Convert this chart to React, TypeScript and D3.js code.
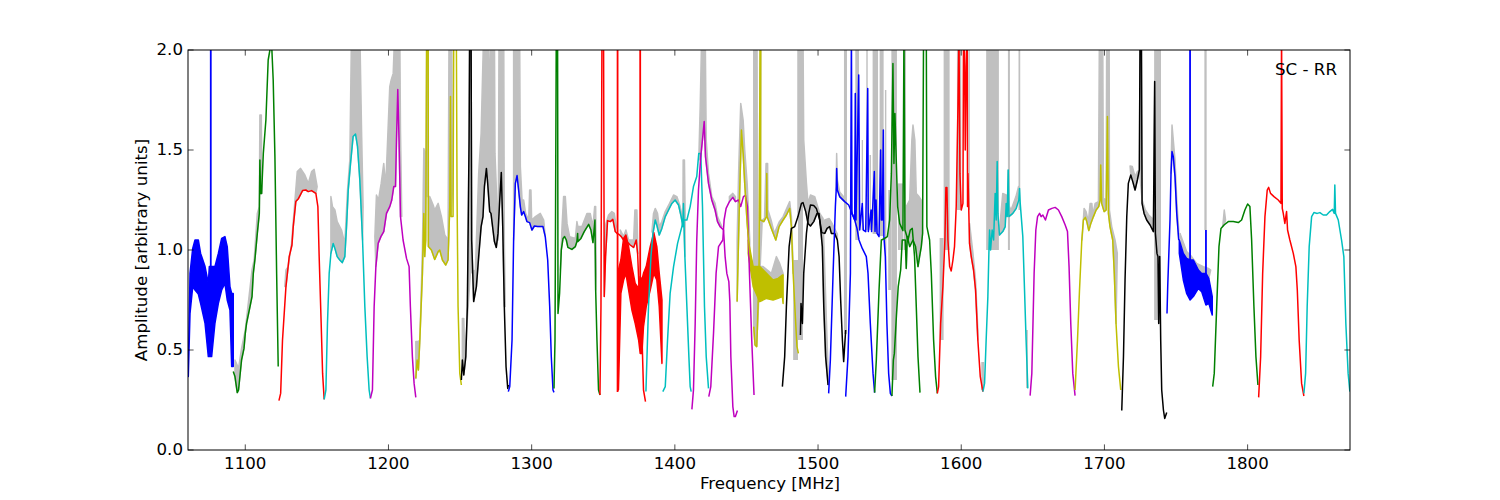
import React from "react";
import * as d3 from "d3";

const TOP = 2.1;
const xTicks = [1100, 1200, 1300, 1400, 1500, 1600, 1700, 1800];
const yTicks = [0, 0.5, 1, 1.5, 2];
const C = { b: "#0000ff", g: "#008000", r: "#ff0000", c: "#00bfbf", m: "#bf00bf", y: "#bfbf00", k: "#000000" };

// Sub-band traces: frequency [MHz] and amplitude
const green1F = [1091.6,1092.8,1094.4,1095.3,1097.4,1099.1,1100,1100.9,1102.8,1104.7,1105.6,1106.7,1108.4,1109.8,1110.2,1110.7,1111.4,1112.6,1114.4,1116,1117.2,1118.4,1119.5,1120.7,1121.9,1123];
const green1A = [.392,.367,.287,.30,.45,.508,.583,.633,.70,.767,.883,.95,1.083,1.183,1.45,1.283,1.283,1.483,1.65,1.95,2.0,2.03,1.85,1.467,.883,.417];
const green1GF = [1092.8,1095.3,1097.4,1100,1104.7,1106.2,1108.4,1109.8,1110.2,1111.2,1111.6];
const green1GA = [.45,.408,.508,.6,.9,.95,1.183,1.217,1.675,1.675,1.283];

const red1F = [1123.5,1124.7,1126,1128.4,1130.7,1132.6,1133.5,1135.3,1137.2,1140,1142.3,1144,1146.3,1149.3,1150.7,1151.6,1153,1154,1155.1];
const red1A = [.247,.283,.55,.817,.967,1.025,1.117,1.242,1.258,1.297,1.30,1.292,1.297,1.283,1.217,.967,.633,.383,.253];
const red1GF = [1127.6,1128.4,1130,1132.3,1134.7,1136.3,1138.6,1141.6,1144,1146.3,1148.1,1150.2];
const red1GA = [.817,.90,.917,1.033,1.25,1.392,1.408,1.375,1.333,1.392,1.403,1.317];

const cyan1F = [1155.1,1156.3,1157.4,1158.6,1159.8,1161.4,1162.6,1164.2,1166,1167.7,1169.5,1170.7,1171.9,1173.5,1175.3,1177,1178.4,1180,1181.9,1183.5,1185.1,1186.5,1187.4];
const cyan1A = [.253,.30,.633,.883,.983,1.033,1.008,.967,.95,.937,.967,1.117,1.30,1.433,1.567,1.58,1.517,1.35,1.05,.717,.467,.30,.258];
const cyan1GF = [1159.8,1160.9,1162.6,1164.2,1167.2,1169.5,1171.4,1173,1174.2,1180,1181.2,1182.3];
const cyan1GA = [1.267,1.217,1.2,1.142,1.10,1.033,1.30,1.45,TOP,TOP,1.6,1.217];

const magenta1F = [1187.4,1188.8,1190,1191.2,1192.8,1194.7,1196.7,1198.6,1200.9,1202.3,1203.7,1204.9,1205.6,1206.5,1207.4,1208.4,1210.2,1212.6,1214.4,1215.3,1216.7,1217.9,1219.1];
const magenta1A = [.258,.30,.717,.917,1.033,1.067,1.092,1.183,1.217,1.25,1.317,1.317,1.55,1.803,1.55,1.167,1.05,.958,.917,.717,.467,.333,.263];
const magenta1GF = [1190.5,1191.6,1193,1194.9,1196.7,1198.1,1200.9,1201.9,1203.3,1204.4,1207.9,1208.4,1209.3];
const magenta1GA = [1.067,1.275,1.25,1.333,1.433,1.317,1.817,1.85,1.883,TOP,TOP,1.6,1.167];

const yellow1F = [1219.1,1220,1220.9,1221.9,1223.7,1224.7,1225.3,1226,1226.7,1227.7,1227.9,1230,1232.3,1234.7,1235.8,1237.7,1240,1241.6,1242.8,1243.3,1243.7,1245.1,1245.6,1247.4,1247.9,1248.6,1249.8,1250.9];
const yellow1A = [.358,.45,.40,.55,.883,1.183,.967,1.05,TOP,TOP,1.017,1.0,.953,.992,1.0,.95,.925,.95,1.217,1.767,1.167,1.167,TOP,TOP,1.267,.717,.383,.325];
const yellow1GF = [1219.1,1220.9,1221.9,1223.7,1224.7,1225.6,1226.5,1228.8,1231.2,1232.3,1234.7,1237,1239.3,1241.6,1242.3,1244.2,1244.7];
const yellow1GA = [.542,.542,.55,1.0,1.508,1.483,1.267,1.267,1.225,1.2,1.233,1.167,1.075,1.05,TOP,TOP,1.3];

const black1F = [1250.9,1251.6,1252.6,1254,1255.1,1256.3,1256.7,1257.7,1258.1,1259.5,1261.4,1263,1264.7,1266,1267,1268.4,1269.3,1270.7,1271.6,1273,1274,1275.3,1276.5,1277.7,1278.8,1279.8,1280.9,1282.1,1283.3,1283.7];
const black1A = [.35,.45,.375,.467,.717,1.55,TOP,TOP,1.05,.742,.817,.967,1.117,1.167,1.317,1.408,1.333,1.192,1.183,1.10,1.042,1.013,1.083,1.25,1.388,1.117,.717,.417,.308,.325];
const black1GF = [1251.6,1252.6,1253.3,1257.2,1260.7,1263,1264.7,1266.5,1270,1270.5,1271.2,1271.6,1274,1274.4,1276.7,1277.2,1280.5,1280.9,1281.6];
const black1GA = [.658,.658,.467,.883,.90,1.383,1.583,TOP,TOP,1.858,1.858,TOP,TOP,1.483,1.05,TOP,TOP,1.05,.717];

const blue2F = [1283.7,1284.7,1286.3,1287.4,1288.6,1289.8,1290.9,1292.1,1293,1294.4,1295.6,1296.7,1298.6,1300.2,1301.9,1304.2,1307.9,1309.5,1311.2,1312.6,1313.7,1314.9,1315.6];
const blue2A = [.292,.317,.55,1.05,1.333,1.372,1.30,1.217,1.175,1.192,1.167,1.142,1.137,1.10,1.12,1.117,1.117,1.067,.95,.717,.467,.30,.288];
const blue2GF = [1287.4,1291.6,1292.1,1293.3,1294.4,1295.8,1297.9,1298.6,1299.5,1300,1302.6,1306,1308.4,1309.5];
const blue2GA = [TOP,TOP,1.417,1.25,1.25,1.183,1.15,1.30,1.30,1.15,1.167,1.183,1.15,1.067];

const green2F = [1315.6,1316.3,1316.7,1317.2,1318.1,1318.4,1319.5,1320.7,1321.9,1323,1324.2,1325.3,1328.1,1330.5,1331.6,1332.1,1332.3,1334.4,1336.7,1339.8,1341.4,1342.8,1344.2,1344.7,1345.6,1346.7,1347.7];
const green2A = [.308,.55,1.217,TOP,TOP,.683,.783,1,1.058,1.067,1.05,1.013,1.003,1.017,1.042,1.083,1.042,1.058,1.092,1.128,1.10,1.037,1.15,.80,.55,.30,.275];
const green2GF = [1320,1321.2,1322.3,1323.5,1324.7,1326.5,1330.5,1331.6,1332.3,1335.1,1338.6,1340.9,1342.8,1344,1344.7,1345.1];
const green2GA = [.90,1.117,1.267,1.267,1.133,1.067,1.058,1.142,1.117,1.117,1.183,1.183,1.117,1.217,1.217,.883];

const red2F = [1347.7,1348.4,1349.1,1350.2,1350.7,1351.6,1353,1354.9,1356.7,1358.4,1360];
const red2A = [.275,.717,TOP,TOP,.767,.967,1.147,1.142,1.153,1.092,1.08];
const red2GF = [1350.7,1351.9,1353.7,1356,1357.7,1359.1];
const red2GA = [1.05,1.133,1.175,1.192,1.183,1.117];

const red3F = [1360,1360.7,1362.6,1364.2,1366.5,1368.8,1371.2,1373,1374,1375.3,1377,1378.1,1379.5];
const red3A = [1.08,1.08,1.067,1.05,1.042,1.025,1.013,1.05,.983,.75,.583,.30,.242];
const red3GF = [1361.9,1364.2,1365.8,1367.7,1371.2,1372.1,1373.5,1374.2];
const red3GA = [1.10,1.067,1.10,1.05,1.05,1.2,1.2,.983];

const cyan2F = [1379.8,1381.6,1383.3,1384.7,1386.3,1387.4,1389.1,1390.9,1393.3,1395.6,1397.9,1400.2,1402.6,1404.4,1405.6,1406,1407,1408.4,1409.8,1410.7,1411.4];
const cyan2A = [.292,.717,.967,1.083,1.15,1.125,1.075,1.108,1.167,1.2,1.233,1.25,1.225,1.167,1.117,1.233,.967,.717,.467,.317,.292];
const cyan2GF = [1384,1385.1,1386.3,1387.9,1389.1,1390.9,1393.3,1396.3,1399.1,1401.4,1403.7,1405.6,1405.8,1406.7,1407.2];
const cyan2GA = [1.092,1.183,1.208,1.183,1.117,1.142,1.192,1.233,1.275,1.267,1.217,1.15,1.45,1.45,1.183];

const cyan3F = [1391.6,1393.3,1394.9,1396.7,1399.1,1401.9,1404.9,1406,1408.4,1410.7,1413,1415.3,1416.7,1418.1,1419.3,1420.7,1421.9,1423.5];
const cyan3A = [.292,.317,.55,.783,.917,1.033,1.117,1.15,1.15,1.217,1.317,1.367,1.483,1.483,1.217,.717,.467,.308];

const magenta2F = [1411.9,1413,1414.2,1415.3,1416.5,1418.1,1419.5,1420.5,1421.4,1423.5,1425.8,1428.1,1429.8,1431.6,1434,1435.1,1436.3,1437.7,1438.4,1439.1,1440.5,1441.4,1442.3,1443.7];
const magenta2A = [.203,.30,.633,1.05,1.30,1.467,1.567,1.642,1.467,1.333,1.25,1.2,1.142,1.117,1.10,.967,.883,.842,.742,.467,.217,.167,.167,.197];
const magenta2GF = [1416.7,1417.7,1418.8,1421.2,1421.9,1423.5,1425.8,1428.1,1429.8,1432.8];
const magenta2GA = [1.45,1.717,TOP,TOP,1.55,1.383,1.267,1.233,1.167,1.117];

const magenta3F = [1423.7,1425.1,1427,1428.8,1430.5,1433.5,1434.4,1435.8,1438.1,1440.5,1442.3,1444.4,1446,1447.9,1449.3,1450.7,1452.1,1453.7,1455.3];
const magenta3A = [.267,.317,.583,.883,1.017,1.05,1.15,1.208,1.242,1.263,1.242,1.25,1.217,1.267,1.273,1.217,.883,.55,.275];
const magenta3GF = [1438.1,1440.5,1442.3];
const magenta3GA = [1.267,1.283,1.267];

const yellow2F = [1443.5,1444.2,1445.3,1446.5,1447.7,1448.8,1450.5,1452.3,1454.2];
const yellow2A = [.742,.967,1.30,1.60,1.483,1.333,1.133,.983,.917];
const yellow2GF = [1443.5,1444.5,1446,1447.7,1448.8,1450.5,1452.3];
const yellow2GA = [1.05,1.383,1.733,1.65,1.5,1.333,1.05];

const yellow3F = [1455.1,1456,1457.2,1458.1,1458.8,1459.3,1459.6,1460,1459.8,1462.1,1464,1464.2,1464.4,1467.4,1470.5,1472.8,1475.6,1477.9,1480.2,1481.4,1482.6,1484.4,1485.3,1486.3];
const yellow3A = [.617,.525,.517,.717,.917,1.717,TOP,TOP,1.15,1.142,1.167,1.383,1.167,1.108,1.05,1.117,1.15,1.175,1.208,1.117,.883,.633,.517,.483];
const yellow3GF = [1455.1,1457.4,1457.7,1461,1462.6,1463.7,1464.8,1465,1467.2,1469.5,1473,1475.6,1480.2,1481.4,1482.6];
const yellow3GA = [TOP,TOP,.6,1.15,1.158,1.433,1.433,1.2,1.15,1.083,1.142,1.167,1.242,1.167,.917];

const black2F = [1475.1,1476.7,1477.9,1479.8,1481.4,1483.7,1486,1488.4,1489.5,1491.4,1493,1494.7,1497,1499.3,1500.7,1501.9,1503,1504,1505.3,1507];
const black2A = [.317,.467,.717,1.017,1.108,1.117,1.167,1.233,1.237,1.192,1.133,1.12,1.142,1.183,1.183,1.10,1.017,.717,.467,.325];
const black2GF = [1486,1489.5,1490,1491.9,1493,1494.7,1497.7,1501.2,1503.5,1507];
const black2GA = [TOP,TOP,1.55,1.333,1.233,1.275,1.267,1.183,1.158,.4];

const black3F = [1487.7,1488.1,1489.1,1490,1491.9,1493.5,1494.7,1497,1498.8,1501.2,1502.6,1504.7,1506.3,1508.1,1509.3,1511.6,1513.5,1514.7,1515.8,1517,1517.9,1519.3];
const black3A = [.575,.733,.633,.883,1.083,1.183,1.225,1.222,1.208,1.15,1.087,1.083,1.108,1.117,1.083,1.083,1.05,.967,.75,.55,.442,.60];
const black3GF = [1504.7,1507.7,1510,1513.5];
const black3GA = [1.15,1.158,1.13,1.08];

const blue3F = [1507.4,1508.6,1510.5,1512.1,1512.8,1513,1513.5,1515.1,1518.6,1521.4,1523.3,1525.6,1527.2,1528.6,1530.9,1533.7,1534.9,1536.5,1538.4,1539.5];
const blue3A = [.283,.45,.883,1.217,1.317,1.408,1.30,1.267,1.242,1.225,1.192,1.15,1.108,1.05,1.008,.967,.883,.633,.383,.287];
const blue3GF = [1512.6,1513,1513.5,1515.1,1518.6];
const blue3GA = [1.3,1.483,1.35,1.29,1.26];

const blue4F = [1519.3,1520.9,1522.6,1523.3,1523.7,1525.6,1526,1526.5,1528.4,1529.1,1530.9,1531.6,1533.3,1534.7,1535.1,1537,1537.4,1539.3,1539.8,1540.5,1541.2,1542.6,1543.7,1544.2,1544.9,1545.6,1546,1547,1548.1,1549.3,1550.5,1551.6];
const blue4A = [.267,.467,.883,TOP,1.183,1.15,1.783,1.15,1.875,1.10,1.233,1.10,1.092,1.808,1.092,1.2,1.092,1.392,1.092,1.25,1.083,1.067,1.5,1.15,1.15,1.6,1.067,.967,.633,.383,.283,.27];

const green3F = [1539.5,1540.7,1542.6,1544.2,1545.8,1548.4,1550,1551.2,1552.3,1553,1553.7,1554.7,1555.6,1557,1559.3,1560,1560.7,1562.8,1564.4,1565.8,1567.4,1568.6,1569.8,1571.2];
const green3A = [.287,.45,.80,1.05,1.055,1.067,1.15,1.383,1.933,1.433,1.683,1.433,1.217,1.133,1.097,TOP,1.10,1.05,1.10,1.108,.967,.717,.467,.287];

const green4F = [1551.6,1552.6,1553.3,1554.7,1556,1557.7,1558.8,1560.9,1561.6,1562.3,1564,1566.3,1568.1,1569.8,1570.9,1572.1,1573,1573.7,1575.6,1576,1577.9,1579.1,1580.7,1582.1,1583.3];
const green4A = [.27,.45,.483,.667,.817,.90,1.05,1.05,.908,1.067,1.017,1.05,1.017,.917,.967,1.017,1.083,TOP,TOP,1.117,1.05,.883,.55,.367,.283];
const green4GF = [1561.6,1564,1565.5,1566.3,1567.6,1568.6,1570.5,1572,1573];
const green4GA = [1.217,1.25,1.55,1.625,1.55,1.283,1.267,1.25,1.1];

const red4F = [1583.3,1584.2,1585.6,1587.2,1588.6,1589.3,1590,1590.7,1591.9,1593,1594.2,1595.3,1596.5,1597.7,1598.4,1599.1,1600,1601.2,1601.6,1602.3,1602.8,1603.5,1604.2,1604.4,1604.7,1605.8,1607,1608.6,1610,1611.6,1613.3,1615.1];
const red4A = [.283,.317,.633,.817,1.05,1.312,1.312,1.05,.917,.895,.95,1.017,1.217,1.717,TOP,1.383,1.2,1.233,TOP,1.983,1.5,1.917,TOP,1.217,1.383,1.033,.967,.90,.80,.55,.367,.292];
const red4GF = [1605.8,1608.2,1610,1611.6];
const red4GA = [1.133,.983,.85,.6];

const cyan4F = [1615.1,1616.3,1617.4,1618.6,1619.3,1619.8,1620.5,1621.6,1622.6,1623.7,1624.4,1625.1,1625.6,1626.7,1629,1630.7,1631.4,1632.1,1632.8,1633.3,1636,1638.4,1640.2,1640.7,1641.2,1643,1644.2,1645.3,1646.5];
const cyan4A = [.292,.333,.55,.767,.983,1.10,1.0,1.10,1.05,1.283,1.15,1.442,1.183,1.075,1.092,1.117,1.233,1.167,1.4,1.167,1.183,1.208,1.25,1.308,1.233,1.067,.80,.55,.308];
const cyan4GF = [1626.7,1629,1631.4,1632.6,1634.8,1638.2,1640];
const cyan4GA = [1.1,1.283,1.275,1.233,1.2,1.267,1.317];

const magenta4F = [1648.1,1649.3,1650.9,1652.1,1653.3,1654.7,1655.8,1657,1658.8,1660.9,1663.3,1665.6,1667.9,1670.2,1672.6,1674.2,1675.3,1676.5,1677.9,1679.5];
const magenta4A = [.272,.383,.883,1.10,1.167,1.183,1.167,1.175,1.15,1.2,1.208,1.213,1.2,1.167,1.125,1.092,.917,.633,.383,.272];

const yellow4F = [1679.5,1681.2,1682.6,1684.2,1685.3,1686.7,1687.7,1689.1,1690.5,1692.3,1694.2,1696,1697,1697.4,1698.1,1699.8,1701.2,1702.1,1702.8,1703.9,1705.8,1706.9,1708.1,1709.8,1711.4];
const yellow4A = [.30,.55,.80,1.05,1.15,1.163,1.142,1.097,1.133,1.167,1.2,1.217,1.25,1.425,1.233,1.192,1.2,1.667,1.183,1.117,1.05,.883,.633,.417,.30];
const yellow4GF = [1684.4,1685.8,1687.2,1688.8,1690,1691.2,1691.9,1693.5,1695.8,1696.5,1698.8,1699.3,1701.2,1701.6,1703.3,1703.5,1705.1,1707.4,1709];
const yellow4GA = [1.05,1.208,1.192,1.142,1.233,1.233,1.175,1.233,1.242,TOP,TOP,1.258,1.25,TOP,TOP,1.2,1.117,1.05,.983];

const black4F = [1712.1,1713.3,1714.4,1715.6,1716.7,1718.4,1719.8,1721.4,1723,1724.4,1724.9,1725.8,1726.3,1727.7,1729.5,1731.9,1734.2,1735.1,1735.6,1736.7,1737.4,1737.9,1738.6,1739.3,1740,1741.2,1742.1,1743.5];
const black4A = [.197,.467,.85,1.167,1.333,1.375,1.342,1.30,1.35,1.40,TOP,TOP,1.233,1.183,1.15,1.125,1.092,1.842,1.083,.983,.967,.633,.967,.55,.30,.20,.158,.187];
const black4GF = [1717.9,1719.5,1721.4,1723,1724.4,1726.3,1728.6,1730.9,1733.3,1735.1];
const black4GA = [1.42,1.417,1.367,1.392,1.4,1.25,1.2,1.175,1.158,1.117];

const blue5F = [1743.7,1744.2,1745.8,1746.5,1747.2,1748.1,1749.3,1750.5,1751.9];
const blue5A = [.683,.817,1.15,1.383,1.492,1.467,1.367,1.183,1.05];
const blue5GF = [1746.5,1747.2,1749.3,1750.5,1751.9];
const blue5GA = [1.4,1.625,1.45,1.25,1.1];

const green5F = [1775.6,1776.7,1778.4,1780,1781.4,1783.5,1786.5,1790,1793.5,1795.8,1798.1,1800,1801.6,1802.8,1804.4,1805.8,1807.2];
const green5A = [.317,.383,.717,1.017,1.108,1.125,1.142,1.142,1.137,1.15,1.2,1.23,1.217,1.05,.717,.467,.325];
const green5GF = [1782.6,1783.7,1784.6];
const green5GA = [1.117,1.2,1.15];

const red5F = [1807.7,1809.1,1810.5,1812.1,1813.7,1814.7,1816,1818.4,1821.4,1823.3,1823.7,1824.2,1824.9,1826,1827.2,1827.9,1829.5,1831.9,1833.7,1834.7,1836,1837.7,1839.3];
const red5A = [.263,.467,.883,1.167,1.30,1.313,1.283,1.267,1.25,1.233,TOP,1.208,1.183,1.133,1.192,1.10,1.05,.983,.917,.80,.55,.333,.27];

const cyan5F = [1839.3,1840.5,1841.6,1843,1844.7,1846.3,1848.6,1850.5,1852.8,1855.1,1857.4,1859.3,1860.5,1860.9,1861.4,1863.3,1865.6,1867.2,1868.6,1870.2,1871.4];
const cyan5A = [.283,.383,.717,1.017,1.167,1.187,1.183,1.187,1.175,1.175,1.192,1.203,1.183,1.325,1.183,1.15,1.05,.967,.633,.383,.292];

// Dense ripple bands: frequency and lower/upper extent
const blueRippleF = [1060.2,1061.4,1063.3,1064.9,1067.2,1068.8,1071.9,1074.2,1074.9,1076.5,1078.8,1081.2,1083.5,1085.8,1087.4,1089.3,1090.5,1091.6];
const blueRippleHi = [.383,.883,1.008,1.05,1.05,.983,.917,.833,.917,.917,.917,.983,1.058,1.067,1.017,.817,.783,.783];
const blueRippleLo = [.367,.683,.817,.80,.78,.733,.633,.467,.467,.467,.633,.733,.80,.833,.75,.70,.417,.417];

const redRippleF = [1360.6,1362.3,1364.2,1365.8,1367.7,1370,1372.3,1374.7,1375.8,1377,1378.1,1380,1382.8,1385.3,1387.4,1389.1,1391];
const redRippleHi = [.90,.95,1.058,1.075,1.017,.917,.833,.808,.867,.85,.883,.917,1.017,1.087,1.017,.883,.75];
const redRippleLo = [.30,.783,.85,.883,.80,.70,.633,.55,.483,.483,.617,.717,.80,.883,.85,.717,.433];

const yellowRippleF = [1451.2,1454.7,1459.3,1464,1468.6,1472.1,1475.1,1475.6];
const yellowRippleHi = [1.05,.917,.917,.883,.85,.858,.875,.875];
const yellowRippleLo = [.983,.817,.742,.758,.75,.758,.767,.733];
const yellowRippleGF = [1454.7,1459.3,1461.6,1467.4,1470.9,1473.2,1475.6];
const yellowRippleGA = [.95,.917,.917,.883,.967,.933,.883];

const blueBandF = [1752.3,1755.1,1757.4,1759.8,1762.1,1765.6,1767.9,1770.9,1772.9,1775.3];
const blueBandHi = [1.05,.983,.958,.95,.95,.90,.883,.883,.858,.767];
const blueBandLo = [.983,.85,.783,.75,.767,.808,.792,.725,.733,.675];
const blueBandGF = [1752.8,1757.4,1760.9,1764.4,1769.1,1772.6,1774.2];
const blueBandGA = [1.083,.992,.967,.933,.917,.908,.90];

// Single narrow interference lines
const spikeF = [1075.9, 1360, 1375.8, 1759.8, 1770.9];
const spikeLo = [.9, .29, .8, .95, .725];
const spikeHi = [TOP, TOP, TOP, TOP, 1.10];
const spikeC = [C.b, C.r, C.r, C.b, C.b];

// Grey unfiltered spectrum columns: start, end, lower, upper
const grayStart = [1482.6,1486,1518.1,1526,1530.5,1533.7,1536,1538.1,1543,1546.7,1549,1551.2,1555.8,1559.8,1584.9,1587.7,1597,1605,1614,1617.4,1632.6,1640,1645.3,1734.7,1769.8];
const grayEnd = [1486,1489.5,1520.2,1528.6,1531.4,1534.7,1537,1541.9,1545.8,1547.7,1551.2,1555.1,1559.3,1561.4,1587.7,1591.9,1600,1606,1616,1626.3,1634,1641.2,1646.5,1739.5,1771.4];
const grayLow = [.45,.55,.58,1.05,1.1,1.1,1.1,1.08,1.07,.9,.8,.35,1.0,1.0,.55,1.0,1.2,1.2,.3,1.0,1.0,1.2,.31,.65,1.1];
const grayHigh = [.95,TOP,TOP,TOP,1.55,TOP,1.475,TOP,TOP,1.8,1.3,TOP,1.333,TOP,1.06,TOP,TOP,TOP,.44,TOP,TOP,TOP,.6,TOP,TOP];

const traces = [
  [C.g, green1F, green1A, green1GF, green1GA], [C.r, red1F, red1A, red1GF, red1GA],
  [C.c, cyan1F, cyan1A, cyan1GF, cyan1GA], [C.m, magenta1F, magenta1A, magenta1GF, magenta1GA],
  [C.y, yellow1F, yellow1A, yellow1GF, yellow1GA], [C.k, black1F, black1A, black1GF, black1GA],
  [C.b, blue2F, blue2A, blue2GF, blue2GA], [C.g, green2F, green2A, green2GF, green2GA],
  [C.r, red2F, red2A, red2GF, red2GA], [C.r, red3F, red3A, red3GF, red3GA],
  [C.c, cyan2F, cyan2A, cyan2GF, cyan2GA], [C.c, cyan3F, cyan3A],
  [C.m, magenta2F, magenta2A, magenta2GF, magenta2GA], [C.m, magenta3F, magenta3A, magenta3GF, magenta3GA],
  [C.y, yellow2F, yellow2A, yellow2GF, yellow2GA], [C.y, yellow3F, yellow3A, yellow3GF, yellow3GA],
  [C.k, black2F, black2A, black2GF, black2GA], [C.k, black3F, black3A, black3GF, black3GA],
  [C.b, blue3F, blue3A, blue3GF, blue3GA], [C.b, blue4F, blue4A],
  [C.g, green3F, green3A], [C.g, green4F, green4A, green4GF, green4GA],
  [C.r, red4F, red4A, red4GF, red4GA], [C.c, cyan4F, cyan4A, cyan4GF, cyan4GA],
  [C.m, magenta4F, magenta4A], [C.y, yellow4F, yellow4A, yellow4GF, yellow4GA],
  [C.k, black4F, black4A, black4GF, black4GA], [C.b, blue5F, blue5A, blue5GF, blue5GA],
  [C.g, green5F, green5A, green5GF, green5GA], [C.r, red5F, red5A], [C.c, cyan5F, cyan5A],
] as [string, number[], number[], number[]?, number[]?][];

const ripples = [
  [C.b, blueRippleF, blueRippleHi, blueRippleLo],
  [C.r, redRippleF, redRippleHi, redRippleLo],
  [C.y, yellowRippleF, yellowRippleHi, yellowRippleLo, yellowRippleGF, yellowRippleGA],
  [C.b, blueBandF, blueBandHi, blueBandLo, blueBandGF, blueBandGA],
] as [string, number[], number[], number[], number[]?, number[]?][];

const GRAY = "#c0c0c0";
const LW = 1.5;
const FONT = "'DejaVu Sans', sans-serif";
const FS = 16.67;

export default function App() {
  const x = d3.scaleLinear().domain([1060, 1871.5]).range([188, 1350]);
  const y = d3.scaleLinear().domain([0, 2]).range([450, 50]);
  const line = d3.line<[number, number]>().x((d) => x(d[0])).y((d) => y(d[1]));
  const zip = (f: number[], a: number[]) => f.map((v, i) => [v, a[i]] as [number, number]);
  const grayPoly = (gf: number[], ga: number[], f: number[], a: number[]) => {
    const hi = zip(gf, ga);
    const f0 = gf[0];
    const f1 = gf[gf.length - 1];
    const lo = zip(f, a).filter((d) => d[0] >= f0 && d[0] <= f1).reverse();
    return line([...hi, ...lo]) + "Z";
  };
  const area = d3.area<[number, number, number]>().x((d) => x(d[0])).y0((d) => y(d[2])).y1((d) => y(d[1]));

  return (
    <svg width={1500} height={500} style={{ position: "absolute", left: 0, top: 0, display: "block", background: "#fff" }} fontFamily={FONT}>
      <defs>
        <clipPath id="plot"><rect x={188} y={50} width={1162} height={400} /></clipPath>
      </defs>
      <g clipPath="url(#plot)">
        {grayStart.map((s, i) => (
          <rect key={"col" + i} x={x(s)} width={x(grayEnd[i]) - x(s)} y={y(grayHigh[i])} height={y(grayLow[i]) - y(grayHigh[i])} fill={GRAY} />
        ))}
        {traces.map(([, f, a, gf, ga], i) =>
          gf && ga ? <path key={"g" + i} d={grayPoly(gf, ga, f, a)} fill={GRAY} stroke={GRAY} strokeWidth={LW} strokeLinejoin="round" /> : null
        )}
        {ripples.map(([, f, hi, , gf, ga], i) =>
          gf && ga ? <path key={"rg" + i} d={grayPoly(gf, ga, f, hi)} fill={GRAY} stroke={GRAY} strokeWidth={LW} strokeLinejoin="round" /> : null
        )}
        {ripples.map(([c, f, hi, lo], i) => (
          <path key={"r" + i} d={area(f.map((v, j) => [v, hi[j], lo[j]] as [number, number, number])) as string} fill={c} stroke={c} strokeWidth={LW} strokeLinejoin="round" />
        ))}
        {traces.map(([c, f, a], i) => (
          <path key={"t" + i} d={line(zip(f, a)) as string} fill="none" stroke={c} strokeWidth={LW} strokeLinejoin="round" />
        ))}
        {spikeF.map((f, i) => (
          <line key={"s" + i} x1={x(f)} x2={x(f)} y1={y(spikeLo[i])} y2={y(spikeHi[i])} stroke={spikeC[i]} strokeWidth={LW + 0.3} />
        ))}
      </g>
      <rect x={188} y={50} width={1162} height={400} fill="none" stroke="#000" strokeWidth={1} />
      {xTicks.map((t) => (
        <g key={t}>
          <line x1={x(t)} x2={x(t)} y1={450} y2={444.4} stroke="#000" strokeWidth={0.7} />
          <line x1={x(t)} x2={x(t)} y1={50} y2={55.6} stroke="#000" strokeWidth={0.7} />
          <text x={x(t)} y={469} textAnchor="middle" fontSize={FS}>{t}</text>
        </g>
      ))}
      {yTicks.map((t) => (
        <g key={t}>
          <line x1={188} x2={193.6} y1={y(t)} y2={y(t)} stroke="#000" strokeWidth={0.7} />
          <line x1={1350} x2={1344.4} y1={y(t)} y2={y(t)} stroke="#000" strokeWidth={0.7} />
          <text x={183} y={y(t) + 5} textAnchor="end" fontSize={FS}>{t.toFixed(1)}</text>
        </g>
      ))}
      <text x={770} y={489} textAnchor="middle" fontSize={FS}>Frequency [MHz]</text>
      <text transform="translate(147,250) rotate(-90)" textAnchor="middle" fontSize={FS}>Amplitude [arbitrary units]</text>
      <text x={1337} y={75} textAnchor="end" fontSize={FS}>SC - RR</text>
    </svg>
  );
}
